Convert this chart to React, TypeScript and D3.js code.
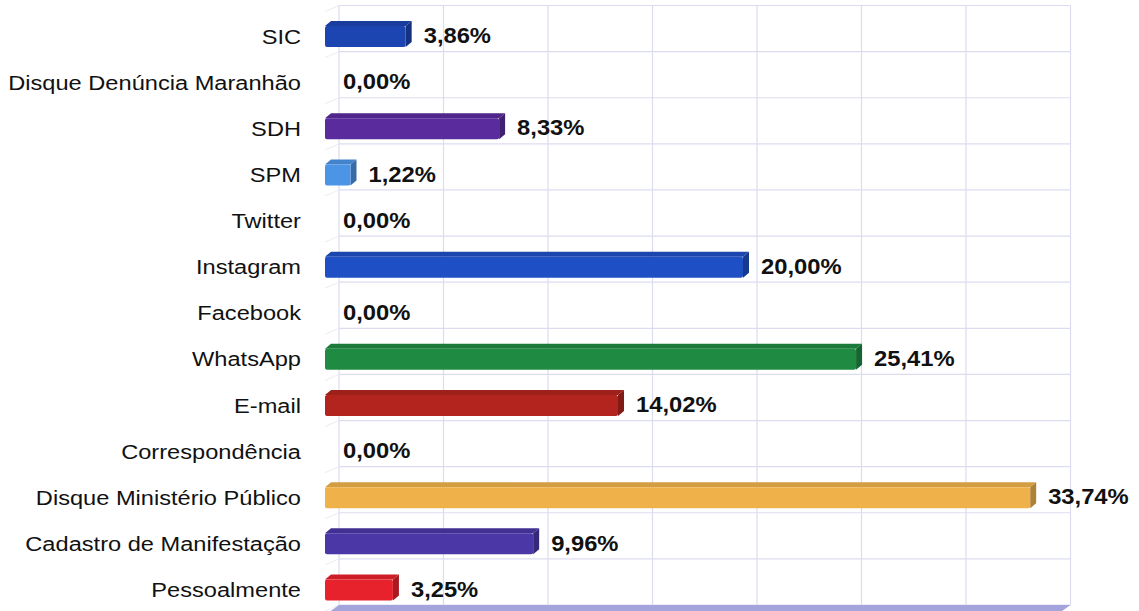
import React, { useEffect, useRef } from 'react';
import * as d3 from 'd3';

const categories = [
  'SIC', 'Disque Denúncia Maranhão', 'SDH', 'SPM', 'Twitter', 'Instagram', 'Facebook',
  'WhatsApp', 'E-mail', 'Correspondência', 'Disque Ministério Público',
  'Cadastro de Manifestação', 'Pessoalmente',
];
const values = [3.86, 0, 8.33, 1.22, 0, 20.0, 0, 25.41, 14.02, 0, 33.74, 9.96, 3.25];
const colors = [
  '#1d45b2', '#1d45b2', '#5a2b9c', '#4b94e6', '#888', '#1f4fc4', '#888',
  '#1f8a42', '#b3241f', '#888', '#efb24a', '#4b37a6', '#e8222c',
];
const gridTicks = [0, 5, 10, 15, 20, 25, 30, 35];

const W = 1139;
const H = 611;

const App = () => {
  const svgRef = useRef<SVGSVGElement>(null);

  useEffect(() => {
    const svg = d3.select(svgRef.current);
    svg.selectAll('*').remove();

    const x = d3.scaleLinear().domain([0, 35]).range([325, 325 + 35 * 20.9]);
    const y = d3.scaleBand().domain(categories).range([11.5, 611]).paddingInner(0).paddingOuter(0);
    const wallDx = 14, wallDy = -6;
    const gridColor = '#dcdcf0';

    const grid = svg.append('g');
    // vertical grid lines on back wall
    grid.selectAll('line.v').data(gridTicks).enter().append('line')
      .attr('x1', d => x(d) + wallDx).attr('x2', d => x(d) + wallDx)
      .attr('y1', 11.5 + wallDy).attr('y2', 611 + wallDy)
      .attr('stroke', gridColor).attr('stroke-width', 1.2);
    // horizontal grid lines on back wall + side wall
    const bounds = d3.range(categories.length + 1).map(i => 11.5 + i * y.step());
    grid.selectAll('line.h').data(bounds).enter().append('line')
      .attr('x1', x(0) + wallDx).attr('x2', x(35) + wallDx)
      .attr('y1', d => d + wallDy).attr('y2', d => d + wallDy)
      .attr('stroke', gridColor).attr('stroke-width', 1.2);
    grid.selectAll('line.s').data(bounds).enter().append('line')
      .attr('x1', x(0)).attr('x2', x(0) + wallDx)
      .attr('y1', d => d).attr('y2', d => d + wallDy)
      .attr('stroke', '#ececf6').attr('stroke-width', 1);

    // floor
    const fl = 611 + wallDy;
    svg.append('path')
      .attr('d', `M${x(0) + wallDx},${fl} L${x(35) + wallDx},${fl} L${x(35) + wallDx - 14},${fl + 10} L${x(0)},${fl + 10} Z`)
      .attr('fill', '#a4a4dc');

    // bars
    const bh = 21, ddx = 6, ddy = -5;
    const bars = svg.append('g');
    categories.forEach((c, i) => {
      const v = values[i];
      const cy = (y(c) as number) + y.bandwidth() / 2;
      const y0 = cy - bh / 2 + 2;
      const y1 = y0 + bh;
      const x0 = x(0);
      const x1 = x(v);
      if (v > 0) {
        const base = d3.color(colors[i])!;
        bars.append('path')
          .attr('d', `M${x0},${y0} L${x0 + ddx},${y0 + ddy} L${x1 + ddx},${y0 + ddy} L${x1},${y0} Z`)
          .attr('fill', base.darker(0.35).toString());
        bars.append('path')
          .attr('d', `M${x1},${y0} L${x1 + ddx},${y0 + ddy} L${x1 + ddx},${y1 + ddy} L${x1},${y1} Z`)
          .attr('fill', base.darker(0.9).toString());
        bars.append('rect')
          .attr('x', x0).attr('y', y0).attr('width', x1 - x0).attr('height', bh)
          .attr('rx', 2)
          .attr('fill', colors[i]);
      }
      bars.append('text')
        .attr('transform', `translate(${x1 + ddx + 12},${cy + 1}) scale(1.08,1)`)
        .attr('dominant-baseline', 'central')
        .attr('font-family', 'Liberation Sans, Arial, sans-serif')
        .attr('font-weight', 'bold')
        .attr('font-size', 22)
        .attr('fill', '#111')
        .text(v.toFixed(2).replace('.', ',') + '%');
      svg.append('text')
        .attr('transform', `translate(301,${cy + 2}) scale(1.125,1)`)
        .attr('text-anchor', 'end')
        .attr('dominant-baseline', 'central')
        .attr('font-family', 'Liberation Sans, Arial, sans-serif')
        .attr('font-size', 21)
        .attr('fill', '#111')
        .text(c);
    });
  }, []);

  return (
    <svg ref={svgRef} width={W} height={H}
      style={{ position: 'absolute', left: 0, top: 0, background: '#fff' }} />
  );
};

export default App;
